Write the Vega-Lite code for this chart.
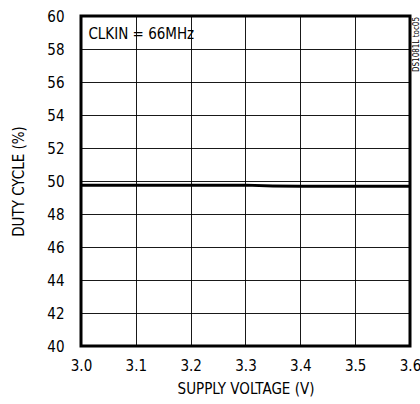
{
  "$schema": "https://vega.github.io/schema/vega-lite/v6.json",
  "width": 329,
  "height": 330,
  "autosize": "none",
  "padding": {"left": 81, "top": 16, "right": 10, "bottom": 58},
  "background": "white",
  "config": {
    "font": "'DejaVu Sans Condensed', 'Liberation Sans', sans-serif",
    "view": {"stroke": "black", "strokeWidth": 3},
    "axis": {
      "grid": true, "gridColor": "black", "gridWidth": 1, "gridOpacity": 0.9,
      "domain": false, "ticks": false, "labelOverlap": false,
      "labelFont": "'DejaVu Sans Condensed', 'Liberation Sans', sans-serif", "labelFontSize": 15, "labelColor": "black",
      "titleFont": "'DejaVu Sans Condensed', 'Liberation Sans', sans-serif", "titleFontSize": 15, "titleFontWeight": "normal", "titleColor": "black"
    }
  },
  "datasets": {
    "curve": [
      {"v": 3.0, "duty": 49.75},
      {"v": 3.1, "duty": 49.75},
      {"v": 3.2, "duty": 49.75},
      {"v": 3.3, "duty": 49.75},
      {"v": 3.35, "duty": 49.7},
      {"v": 3.4, "duty": 49.68},
      {"v": 3.5, "duty": 49.68},
      {"v": 3.6, "duty": 49.68}
    ],
    "notes": [
      {"v": 3.05, "duty": 59.0, "label": "CLKIN = 66MHz"}
    ],
    "code": [
      {"v": 3.6, "duty": 60, "label": "DS1081L toc05"}
    ]
  },
  "encoding": {
    "x": {"field": "v", "type": "quantitative",
          "scale": {"domain": [3.0, 3.6], "nice": false, "zero": false},
          "axis": {"values": [3.0, 3.1, 3.2, 3.3, 3.4, 3.5, 3.6], "format": ".1f", "labelPadding": 12, "title": "SUPPLY VOLTAGE (V)", "titlePadding": 8, "labelFlush": false}},
    "y": {"field": "duty", "type": "quantitative",
          "scale": {"domain": [40, 60], "nice": false, "zero": false},
          "axis": {"values": [40, 42, 44, 46, 48, 50, 52, 54, 56, 58, 60], "labelPadding": 17, "title": "DUTY CYCLE (%)", "titlePadding": 20, "labelFlush": false}}
  },
  "layer": [
    {
      "data": {"name": "curve"},
      "mark": {"type": "line", "color": "black", "strokeWidth": 3}
    },
    {
      "data": {"name": "notes"},
      "mark": {"type": "text", "align": "left", "baseline": "middle", "fontSize": 15, "color": "black", "dx": -20, "dy": 1},
      "encoding": {"text": {"field": "label"}}
    },
    {
      "data": {"name": "code"},
      "mark": {"type": "text", "angle": 270, "align": "right", "baseline": "top", "fontSize": 8, "color": "black", "dy": 3, "dx": -1},
      "encoding": {"text": {"field": "label"}}
    }
  ]
}
